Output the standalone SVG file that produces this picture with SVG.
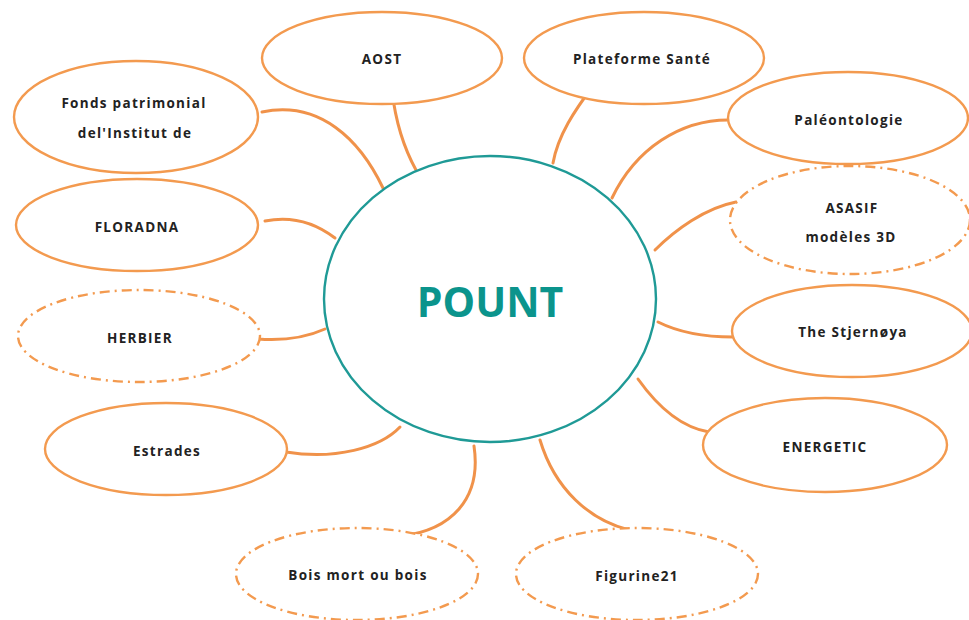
<svg xmlns="http://www.w3.org/2000/svg" width="969" height="620" viewBox="0 0 969 620">
<style>
.n{fill:#fff;stroke:#f39a4f;stroke-width:2.4}
.d{stroke-dasharray:10 5 2 5}
.t{font-family:"Open Sans","Liberation Sans",sans-serif;font-weight:700;font-size:13.5px;letter-spacing:1.3px;fill:#222;text-anchor:middle}
.c{fill:none;stroke:#f0924a;stroke-width:3;stroke-linecap:round}
</style>
<rect width="969" height="620" fill="#fff"/>
<g id="connectors">
<path class="c" d="M262,112 C320,100 360,140 383,188"/>
<path class="c" d="M265,221 C295,215 318,225 335,238"/>
<path class="c" d="M258,339 C285,341 305,338 325,329"/>
<path class="c" d="M286,452 C335,460 380,448 400,427"/>
<path class="c" d="M474,446 C482,500 450,530 402,536"/>
<path class="c" d="M540,440 C555,490 590,520 629,530"/>
<path class="c" d="M638,379 C660,410 685,428 709,432"/>
<path class="c" d="M658,322 C680,333 705,337 733,337"/>
<path class="c" d="M655,250 C675,230 705,208 736,202"/>
<path class="c" d="M612,198 C635,150 680,118 733,120"/>
<path class="c" d="M593,86 C575,110 558,135 553,163"/>
<path class="c" d="M392,91 C396,125 405,150 416,170"/>
</g>
<g id="pount">
<ellipse cx="490" cy="299" rx="166" ry="143" fill="#fff" stroke="#1f9a96" stroke-width="2.4"/>
<text x="490" y="317" font-family="'Open Sans','Liberation Sans',sans-serif" font-weight="700" font-size="41" fill="#0b948c" text-anchor="middle">POUNT</text>
</g>
<g id="aost"><ellipse class="n" cx="382" cy="58" rx="120" ry="46"/><text class="t" x="382" y="64">AOST</text></g>
<g id="plateforme"><ellipse class="n" cx="644" cy="58" rx="120" ry="46"/><text class="t" x="642" y="64">Plateforme Santé</text></g>
<g id="paleontologie"><ellipse class="n" cx="848" cy="118" rx="120" ry="46"/><text class="t" x="849" y="125">Paléontologie</text></g>
<g id="asasif"><ellipse class="n d" cx="850" cy="220" rx="120" ry="54"/><text class="t" x="852" y="213">ASASIF</text><text class="t" x="851" y="242">modèles 3D</text></g>
<g id="stjernoya"><ellipse class="n" cx="852" cy="331" rx="120" ry="46"/><text class="t" x="853" y="337">The Stjernøya</text></g>
<g id="energetic"><ellipse class="n" cx="825" cy="445" rx="122" ry="47"/><text class="t" x="825" y="452">ENERGETIC</text></g>
<g id="figurine"><ellipse class="n d" cx="637" cy="574" rx="121" ry="46"/><text class="t" x="637" y="581">Figurine21</text></g>
<g id="boismort"><ellipse class="n d" cx="357" cy="574" rx="121" ry="46"/><text class="t" x="358" y="580">Bois mort ou bois</text></g>
<g id="estrades"><ellipse class="n" cx="166" cy="449" rx="121" ry="46"/><text class="t" x="167" y="456">Estrades</text></g>
<g id="herbier"><ellipse class="n d" cx="139" cy="336" rx="121" ry="46"/><text class="t" x="140" y="343">HERBIER</text></g>
<g id="floradna"><ellipse class="n" cx="137" cy="225" rx="121" ry="46"/><text class="t" x="137" y="232">FLORADNA</text></g>
<g id="fonds"><ellipse class="n" cx="136" cy="117" rx="122" ry="56"/><text class="t" x="134" y="108">Fonds patrimonial</text><text class="t" x="135" y="138">del'Institut de</text></g>
</svg>
